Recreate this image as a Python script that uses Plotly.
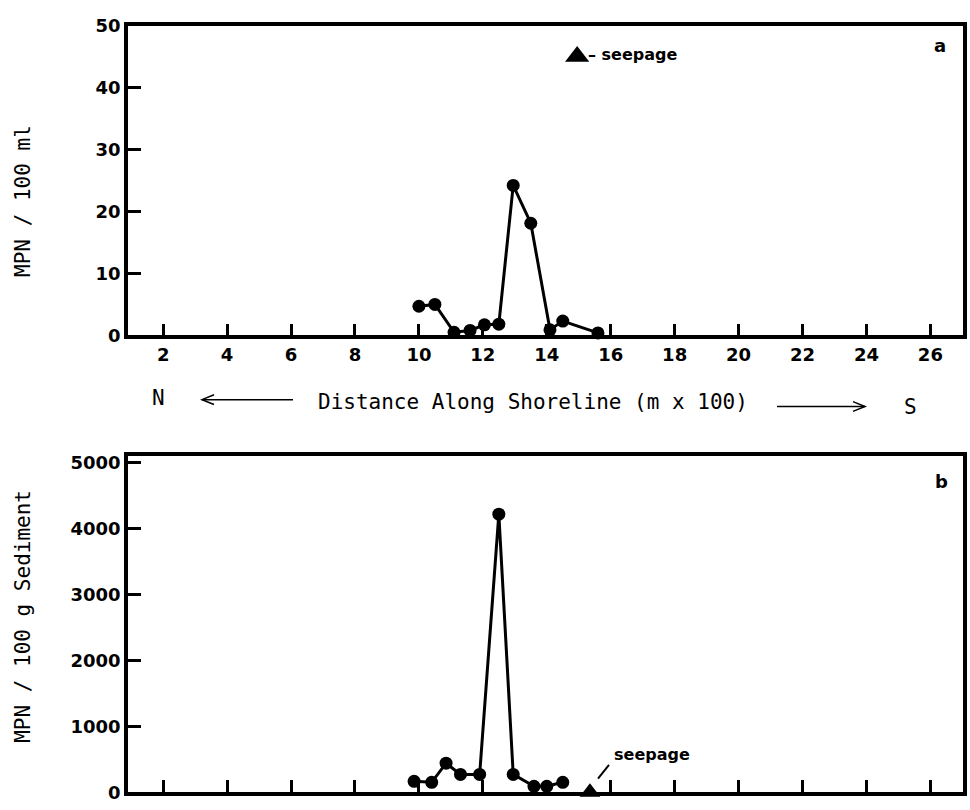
import plotly.graph_objects as go

# ---------------- data ----------------
# Panel a: MPN / 100 ml (water)
water_dist = [10.0, 10.5, 11.1, 11.6, 12.05, 12.5, 12.95, 13.5, 14.1, 14.5, 15.6]
water_mpn = [4.7, 5.0, 0.5, 0.8, 1.7, 1.8, 24.2, 18.1, 0.9, 2.3, 0.4]

# Panel b: MPN / 100 g sediment
sed_dist = [9.85, 10.4, 10.85, 11.3, 11.9, 12.5, 12.95, 13.6, 14.0, 14.5]
sed_mpn = [165, 150, 440, 270, 270, 4220, 270, 90, 90, 150]

# seepage markers
seep_key_a = (14.95, 45)      # key symbol in panel a
seep_b = (15.35, 0)           # seepage location in panel b

x_ticks = [2, 4, 6, 8, 10, 12, 14, 16, 18, 20, 22, 24, 26]
y_ticks_a = [0, 10, 20, 30, 40, 50]
y_ticks_b = [0, 1000, 2000, 3000, 4000, 5000]

W, H = 970, 810


def px(p):
    return p / W


def py(p):
    return 1 - p / H


mono = "DejaVu Sans Mono"
boldfont = dict(family="DejaVu Sans", size=18, color="black", weight="bold")

fig = go.Figure()

fig.add_trace(go.Scatter(
    x=water_dist, y=water_mpn, mode="lines+markers",
    line=dict(color="black", width=3),
    marker=dict(color="black", size=13),
    cliponaxis=False, xaxis="x", yaxis="y", showlegend=False))

fig.add_trace(go.Scatter(
    x=[seep_key_a[0]], y=[seep_key_a[1]], mode="markers",
    marker=dict(color="black", size=21, symbol="triangle-up"),
    cliponaxis=False, xaxis="x", yaxis="y", showlegend=False))

fig.add_trace(go.Scatter(
    x=sed_dist, y=sed_mpn, mode="lines+markers",
    line=dict(color="black", width=3),
    marker=dict(color="black", size=13),
    cliponaxis=False, xaxis="x2", yaxis="y2", showlegend=False))

fig.add_trace(go.Scatter(
    x=[seep_b[0]], y=[seep_b[1]], mode="markers",
    marker=dict(color="black", size=18, symbol="triangle-up"),
    cliponaxis=False, xaxis="x2", yaxis="y2", showlegend=False))

xdom = [px(128), px(963)]
common_x = dict(
    range=[0.9, 27.02], domain=xdom, tickmode="array", tickvals=x_ticks,
    ticks="inside", ticklen=12, tickwidth=2.5, tickcolor="black",
    showline=True, linecolor="black", linewidth=3.5, mirror=True,
    showgrid=False, zeroline=False, tickfont=boldfont)
common_y = dict(
    ticks="inside", ticklen=13, tickwidth=2.5, tickcolor="black",
    showline=True, linecolor="black", linewidth=3.5, mirror=True,
    showgrid=False, zeroline=False, tickfont=boldfont, tickmode="array")

fig.update_layout(
    width=W, height=H, margin=dict(l=0, r=0, t=0, b=0),
    paper_bgcolor="white", plot_bgcolor="white",
    xaxis=dict(common_x, anchor="y", showticklabels=True),
    yaxis=dict(common_y, range=[0, 50], tickvals=y_ticks_a,
               domain=[py(333), py(15)], anchor="x"),
    xaxis2=dict(common_x, anchor="y2", showticklabels=False),
    yaxis2=dict(common_y, range=[0, 5100], tickvals=y_ticks_b,
                domain=[py(802), py(457)], anchor="x2"),
)

monofont = dict(family=mono, size=21, color="black")
ann = []


def add_text(text, x, y, font, xanchor="center", yanchor="middle", angle=0):
    ann.append(dict(text=text, x=px(x), y=py(y), xref="paper", yref="paper",
                    xanchor=xanchor, yanchor=yanchor, textangle=angle,
                    showarrow=False, font=font))


# y-axis titles
add_text("MPN / 100 ml", 23, 195, monofont, angle=-90)
add_text("MPN / 100 g Sediment", 23, 622, monofont, angle=-90)
# x-axis title line
add_text("N", 158, 397, monofont)
add_text("Distance Along Shoreline (m x 100)", 533, 401, monofont)
add_text("S", 910, 407, monofont)
# panel letters
add_text("a", 940, 35, boldfont)
add_text("b", 941, 483, boldfont)
# seepage key text (panel a)
seepfont = dict(family="DejaVu Sans", size=16, color="black", weight="bold")
add_text("– seepage", 586, 45, seepfont, xanchor="left")
# seepage label (panel b)
add_text("seepage", 652, 763, seepfont)
fig.update_layout(annotations=ann)

shapes = []
# left arrow
shapes.append(dict(type="line", xref="paper", yref="paper",
                   x0=px(202), y0=py(399), x1=px(293), y1=py(399),
                   line=dict(color="black", width=1.5)))
shapes.append(dict(type="path", xref="paper", yref="paper",
                   path=f"M {px(214)} {py(394)} L {px(202)} {py(399)} L {px(214)} {py(404)}",
                   line=dict(color="black", width=1.5)))
# right arrow
shapes.append(dict(type="line", xref="paper", yref="paper",
                   x0=px(777), y0=py(406), x1=px(865), y1=py(406),
                   line=dict(color="black", width=1.5)))
shapes.append(dict(type="path", xref="paper", yref="paper",
                   path=f"M {px(853)} {py(401)} L {px(865)} {py(406)} L {px(853)} {py(411)}",
                   line=dict(color="black", width=1.5)))
# leader line for seepage in panel b
shapes.append(dict(type="line", xref="paper", yref="paper",
                   x0=px(598), y0=py(788), x1=px(609), y1=py(774),
                   line=dict(color="black", width=2)))
fig.update_layout(shapes=shapes)

fig.write_html("out.html")
